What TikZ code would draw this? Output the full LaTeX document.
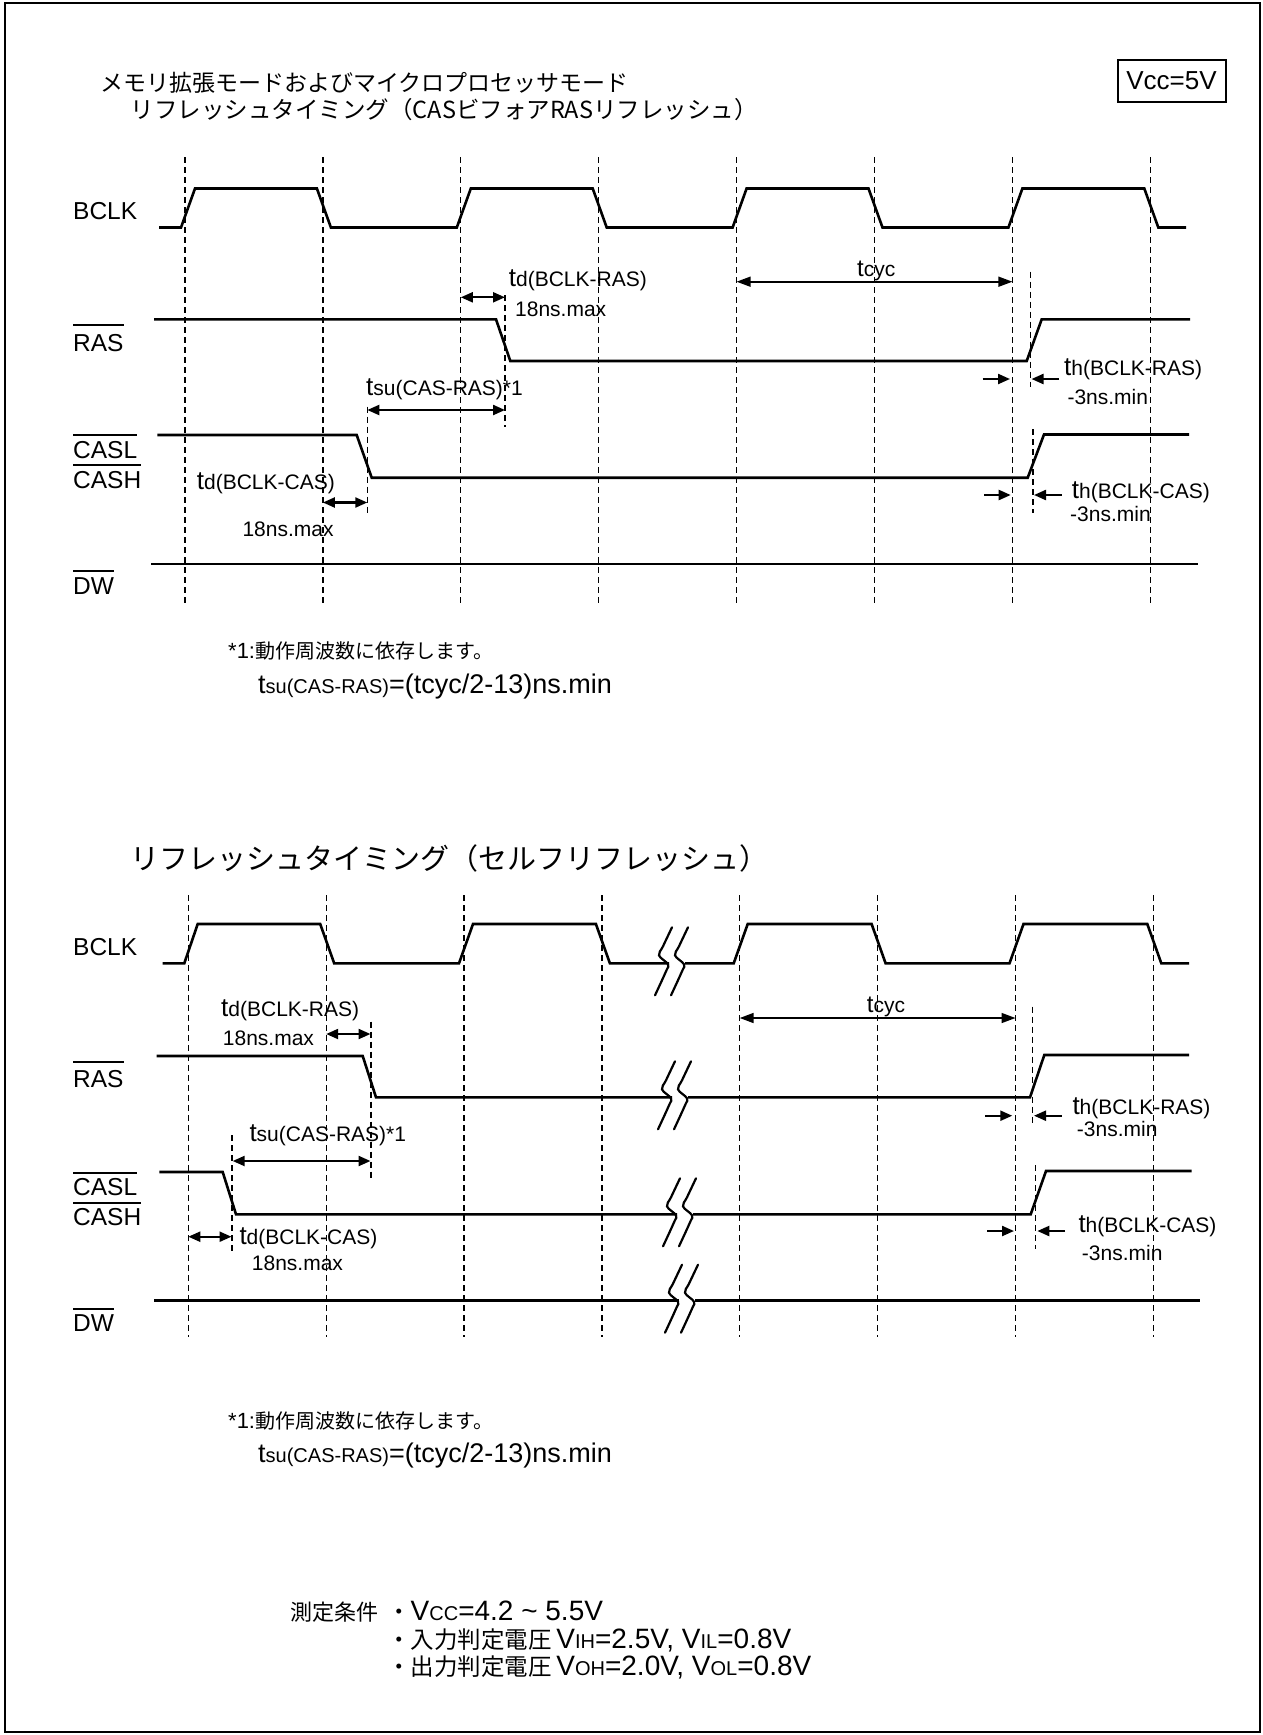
\documentclass[tikz,border=0pt]{standalone}
\usepackage{fontspec}
\setmainfont{Liberation Sans}
\newfontfamily\jp{Noto Sans CJK JP}
\usetikzlibrary{arrows.meta}
\newcommand\fs[1]{\fontsize{#1}{#1}\selectfont}
\newcommand\bt{{\fs{26}t}}
\tikzset{
  sig/.style={line width=2.6pt, line join=miter},
  grid/.style={line width=1.3pt, dash pattern=on 6pt off 4pt},
  tick/.style={line width=1.3pt, dash pattern=on 6pt off 4pt},
  dimarr/.style={line width=2.2pt, <->},
  onearr/.style={line width=2.2pt, ->},
  cycarr/.style={line width=1.6pt, {Triangle[length=14pt,width=10pt]}-{Triangle[length=14pt,width=10pt]}},
  lbl/.style={inner sep=0pt, anchor=base west, font=\fs{21}},
  sname/.style={inner sep=0pt, anchor=base west, font=\fs{24.5}},
  ovl/.style={line width=1.8pt},
  brk/.style={line width=2.2pt, line cap=round},
  note/.style={inner sep=0pt, anchor=base west},
  brkmark/.pic={
    \draw[brk] plot[smooth,tension=0.6] coordinates {(3,-36) (-6,-17) (-10,-8) (-1,1) (-3,8) (-14,32)};
    \draw[brk] plot[smooth,tension=0.6] coordinates {(19,-36) (10,-17) (6,-8) (15,1) (13,8) (2,32)};
  }
}
\begin{document}
\begin{tikzpicture}[x=1pt,y=-1pt,>={Triangle[length=12pt,width=10pt]}]
\useasboundingbox (0,0) rectangle (1263,1735);
\draw[line width=2.5pt] (5,3) rectangle (1260,1732);

% ---------- titles ----------
\node[note, font=\jp\fs{23}] (title1) at (100,91) {メモリ拡張モードおよびマイクロプロセッサモード};
\node[note, font=\jp\fs{23.5}] (title2) at (130.6,118) {リフレッシュタイミング（CASビフォアRASリフレッシュ）};
\node[draw, line width=2pt, minimum width=108pt, minimum height=42pt, inner sep=0pt, font=\fs{26}] (vcc) at (1171.5,81) {Vcc=5V};

% ---------- top diagram ----------
\foreach \k in {0,...,7} \draw[grid] ({185+137.9*\k},157) -- ({185+137.9*\k},603);

\node[sname] (bclkT) at (73,219) {BCLK};
\node[sname] (rasT) at (73,351.7) {RAS};
\node[sname] (caslT) at (73,458.3) {CASL};
\node[sname] (cashT) at (73,488.3) {CASH};
\node[sname] (dwT) at (73,594.3) {DW};
\draw[ovl] ([yshift=26.5pt]rasT.base west) -- ([yshift=26.5pt]rasT.base east);
\draw[ovl] ([yshift=23pt]caslT.base west) -- ([yshift=23pt]caslT.base east);
\draw[ovl] ([yshift=23pt]cashT.base west) -- ([yshift=23pt]cashT.base east);
\draw[ovl] ([yshift=23pt]dwT.base west) -- ([yshift=23pt]dwT.base east);

\draw[sig] (159,227.5) -- (181,227.5) -- (195,188.5) -- (316.9,188.5) -- (330.9,227.5) -- (456.8,227.5) -- (470.8,188.5) -- (592.7,188.5) -- (606.7,227.5) -- (732.6,227.5) -- (746.6,188.5) -- (868.5,188.5) -- (882.5,227.5) -- (1008.4,227.5) -- (1022.4,188.5) -- (1144.3,188.5) -- (1158.3,227.5) -- (1186,227.5);
\draw[sig] (154,319.3) -- (496,319.3) -- (510.3,361) -- (1026.7,361) -- (1041.7,319.3) -- (1190,319.3);
\draw[sig] (157.3,435) -- (356.7,435) -- (371.7,477.7) -- (1027.7,477.7) -- (1044,434.5) -- (1189,434.5);
\draw[sig] (151,564) -- (1197.7,564);

\draw[dimarr] (460.8,297.3) -- (505,297.3);
\draw[tick] (505,295) -- (505,427);
\draw[dimarr] (367.3,410) -- (505,410);
\draw[tick] (367.3,406.7) -- (367.3,513);
\draw[dimarr] (322.9,502.5) -- (367.3,502.5);
\draw[cycarr] (736.6,281.7) -- (1012.4,281.7);
\draw[tick] (1030.7,271.7) -- (1030.7,386.7);
\draw[onearr] (982.7,379) -- (1010,379);
\draw[onearr] (1059,379) -- (1031.5,379);
\draw[tick] (1033,429.3) -- (1033,512.7);
\draw[onearr] (984,495) -- (1010.7,495);
\draw[onearr] (1061.7,495) -- (1034,495);

\node[lbl] (tdrasT) at (508.7,286) {\bt d(BCLK-RAS)};
\node[lbl] (maxrasT) at (515,316.7) {18ns.max};
\node[lbl] (tsuT) at (366,395) {\bt su(CAS-RAS)*1};
\node[lbl] (tdcasT) at (196.7,489) {\bt d(BCLK-CAS)};
\node[lbl] (maxcasT) at (242.3,536.7) {18ns.max};
\node[lbl] (tcycT) at (857,276) {{\fs{24}t}cyc};
\node[lbl] (thrasT) at (1064,375) {\bt h(BCLK-RAS)};
\node[lbl] (minrasT) at (1067.3,404) {-3ns.min};
\node[lbl] (thcasT) at (1071.7,498.3) {\bt h(BCLK-CAS)};
\node[lbl] (mincasT) at (1070,521) {-3ns.min};

\node[note, font=\fs{22}] (fn1) at (228,658) {*1:{\jp\fs{20}動作周波数に依存します。}};
\node[note, font=\fs{27}] (fm1) at (258,693) {t{\fs{20}su(CAS-RAS)}=(tcyc/2-13)ns.min};

% ---------- bottom diagram ----------
\node[note, font=\jp\fs{29}] (title3) at (130,869.5) {リフレッシュタイミング（セルフリフレッシュ）};

\foreach \k in {0,...,7} \draw[grid] ({188.3+137.86*\k},895) -- ({188.3+137.86*\k},1337);

\node[sname] (bclkB) at (73,955) {BCLK};
\node[sname] (rasB) at (73,1087.3) {RAS};
\node[sname] (caslB) at (73,1195) {CASL};
\node[sname] (cashB) at (73,1225) {CASH};
\node[sname] (dwB) at (73,1331.7) {DW};
\draw[ovl] ([yshift=25.6pt]rasB.base west) -- ([yshift=25.6pt]rasB.base east);
\draw[ovl] ([yshift=22.3pt]caslB.base west) -- ([yshift=22.3pt]caslB.base east);
\draw[ovl] ([yshift=22.3pt]cashB.base west) -- ([yshift=22.3pt]cashB.base east);
\draw[ovl] ([yshift=22.5pt]dwB.base west) -- ([yshift=22.5pt]dwB.base east);

\draw[sig] (162.7,963.3) -- (184.3,963.3) -- (197.7,924) -- (320.2,924) -- (334.2,963.3) -- (459,963.3) -- (473,924) -- (595.9,924) -- (609.9,963.3) -- (669,963.3);
\draw[sig] (685,963.3) -- (733.7,963.3) -- (747.7,924) -- (871.6,924) -- (885.6,963.3) -- (1009.5,963.3) -- (1023.5,924) -- (1147.3,924) -- (1161.3,963.3) -- (1189,963.3);
\pic at (669,963.3) {brkmark};

\draw[sig] (156.7,1056) -- (362.7,1056) -- (376,1097.3) -- (672,1097.3);
\draw[sig] (688,1097.3) -- (1030,1097.3) -- (1044.3,1055) -- (1189,1055);
\pic at (672,1097.3) {brkmark};

\draw[sig] (159.3,1172) -- (222.7,1172) -- (236,1214.3) -- (677,1214.3);
\draw[sig] (693,1214.3) -- (1030.7,1214.3) -- (1046,1171) -- (1191.7,1171);
\pic at (677,1214.3) {brkmark};

\draw[sig] (154.3,1300.7) -- (679,1300.7);
\draw[sig] (695,1300.7) -- (1200,1300.7);
\pic at (679,1300.7) {brkmark};

\draw[dimarr] (326.2,1034) -- (370.5,1034);
\draw[tick] (371,1021.7) -- (371,1180);
\draw[dimarr] (232.7,1161) -- (370.5,1161);
\draw[tick] (232,1135) -- (232,1251.7);
\draw[dimarr] (188.3,1236.7) -- (231.5,1236.7);
\draw[cycarr] (739.7,1018) -- (1015.5,1018);
\draw[tick] (1032.7,1006.7) -- (1032.7,1123.3);
\draw[onearr] (985,1115.7) -- (1012.3,1115.7);
\draw[onearr] (1061.7,1115.7) -- (1034,1115.7);
\draw[tick] (1035.7,1165) -- (1035.7,1249.3);
\draw[onearr] (987.3,1231) -- (1014,1231);
\draw[onearr] (1065,1231) -- (1037.3,1231);

\node[lbl] (tdrasB) at (221,1016.7) {\bt d(BCLK-RAS)};
\node[lbl] (maxrasB) at (222.7,1045) {18ns.max};
\node[lbl] (tsuB) at (249.3,1141.7) {\bt su(CAS-RAS)*1};
\node[lbl] (tdcasB) at (239.3,1244.3) {\bt d(BCLK-CAS)};
\node[lbl] (maxcasB) at (251.7,1270) {18ns.max};
\node[lbl] (tcycB) at (866.7,1012.5) {{\fs{24}t}cyc};
\node[lbl] (thrasB) at (1072.3,1114.3) {\bt h(BCLK-RAS)};
\node[lbl] (minrasB) at (1076.7,1136.7) {-3ns.min};
\node[lbl] (thcasB) at (1078.3,1232.3) {\bt h(BCLK-CAS)};
\node[lbl] (mincasB) at (1081.7,1260) {-3ns.min};

\node[note, font=\fs{22}] (fn2) at (228,1428) {*1:{\jp\fs{20}動作周波数に依存します。}};
\node[note, font=\fs{27}] (fm2) at (258,1462) {t{\fs{20}su(CAS-RAS)}=(tcyc/2-13)ns.min};

% ---------- conditions ----------
\node[note, font=\jp\fs{22}] (cond) at (290,1620) {測定条件};
\node[note, font=\fs{28}] (c1) at (387,1620) {{\jp\fs{23.5}・}V{\fs{20}CC}=4.2 \textasciitilde{} 5.5V};
\node[note, font=\fs{28}] (c2) at (387,1648) {{\jp\fs{23.5}・入力判定電圧}\,V{\fs{20}IH}=2.5V, V{\fs{20}IL}=0.8V};
\node[note, font=\fs{28}] (c3) at (387,1675) {{\jp\fs{23.5}・出力判定電圧}\,V{\fs{20}OH}=2.0V, V{\fs{20}OL}=0.8V};
\end{tikzpicture}
\end{document}
